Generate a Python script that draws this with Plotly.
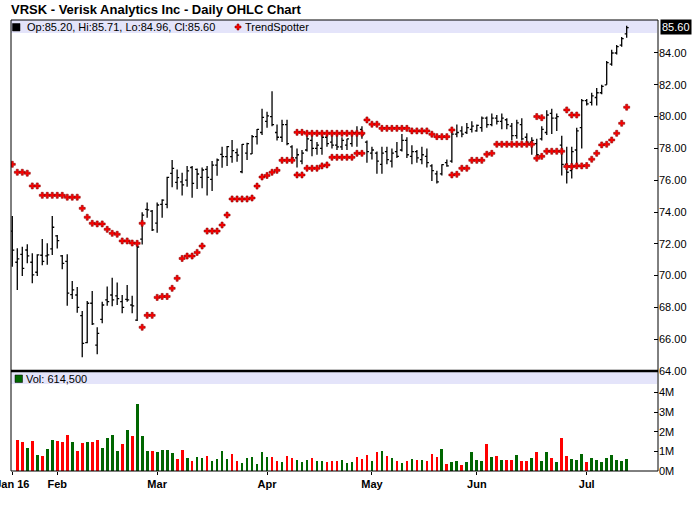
import plotly.graph_objects as go

title = "VRSK - Verisk Analytics Inc - Daily OHLC Chart"

# trading days counted from Jan 19 2016; first day of each month
tick_days = [0, 9, 29, 51, 72, 93, 115]
tick_labels = ["Jan 16", "Feb", "Mar", "Apr", "May", "Jun", "Jul"]
price_ticks = [64, 66, 68, 70, 72, 74, 76, 78, 80, 82, 84]
vol_ticks = [0, 1, 2, 3, 4]
vol_tick_labels = ["0M", "1M", "2M", "3M", "4M"]

opens = [72.80, 70.84, 71.34, 71.61, 70.84, 70.21, 71.28, 71.24, 71.68, 72.50,
         71.24, 70.90, 68.80, 68.78, 67.48, 65.78, 68.26, 65.63, 67.25, 68.47,
         68.78, 68.72, 68.36, 68.51, 68.15, 67.20, 72.30, 74.17, 74.06, 73.30,
         74.48, 74.48, 76.43, 75.86, 75.90, 76.01, 76.80, 76.68, 76.18, 76.68,
         76.05, 76.95, 77.62, 77.48, 77.48, 77.73, 76.53, 77.70, 77.65, 78.74,
         79.00, 79.70, 80.00, 79.00, 78.70, 79.50, 78.10, 77.40, 77.20, 77.90,
         78.50, 78.00, 78.00, 78.70, 78.40, 78.20, 78.10, 78.20, 78.30, 79.00,
         79.20, 78.40, 77.70, 77.70, 77.00, 77.80, 77.20, 77.80, 77.90, 78.50,
         77.50, 77.80, 77.30, 77.50, 76.90, 76.40, 76.40, 77.10, 77.20, 78.90,
         79.10, 79.00, 79.20, 79.10, 79.30, 79.90, 79.50, 79.90, 79.70, 79.80,
         79.40, 78.80, 79.50, 78.70, 78.40, 78.30, 78.60, 79.00, 80.20, 79.90,
         78.20, 77.00, 76.60, 77.90, 79.30, 81.00, 80.90, 81.20, 81.50, 82.00,
         83.30, 84.00, 84.50, 85.20]
highs = [73.75, 71.72, 71.82, 71.97, 71.40, 71.34, 72.30, 72.03, 73.75, 72.56,
         71.30, 71.34, 69.66, 69.29, 67.78, 68.40, 69.03, 66.75, 68.36, 69.31,
         69.87, 69.56, 68.78, 69.41, 68.74, 72.10, 73.98, 74.60, 74.12, 74.60,
         74.80, 76.22, 77.27, 76.68, 76.47, 76.89, 76.89, 76.74, 76.80, 76.89,
         77.20, 77.37, 78.11, 78.15, 78.53, 78.00, 78.28, 78.36, 78.84, 79.22,
         80.50, 80.30, 81.60, 79.50, 79.80, 79.80, 78.20, 78.00, 77.90, 79.00,
         78.90, 78.40, 78.90, 79.00, 78.90, 78.90, 78.70, 78.60, 79.10, 79.40,
         79.40, 78.50, 78.10, 77.80, 78.10, 78.10, 78.00, 78.40, 78.90, 78.70,
         78.20, 77.90, 78.10, 78.00, 77.00, 76.60, 77.00, 77.30, 79.20, 79.50,
         79.40, 79.60, 79.70, 79.50, 80.00, 80.00, 80.20, 80.10, 80.20, 79.90,
         79.60, 79.80, 79.90, 78.95, 78.70, 78.60, 79.40, 80.40, 80.50, 80.20,
         78.80, 78.10, 78.10, 79.30, 81.10, 81.10, 81.50, 81.80, 82.00, 83.50,
         84.20, 84.50, 85.00, 85.71]
lows = [70.56, 69.10, 69.98, 70.77, 69.52, 69.98, 70.65, 70.69, 71.30, 71.70,
        70.40, 68.10, 68.53, 67.67, 64.86, 65.74, 66.90, 65.05, 67.00, 68.10,
        68.07, 68.15, 67.63, 68.36, 67.63, 67.15, 71.95, 73.64, 72.80, 72.70,
        73.64, 74.23, 75.55, 75.42, 75.03, 75.59, 74.90, 75.44, 75.49, 75.03,
        75.32, 76.28, 76.79, 76.89, 77.10, 77.16, 76.43, 77.27, 77.65, 78.25,
        78.85, 79.30, 79.40, 78.50, 78.40, 78.20, 77.30, 76.80, 77.00, 77.80,
        77.50, 77.60, 77.60, 78.10, 78.00, 77.90, 77.90, 77.90, 78.10, 78.10,
        78.60, 77.10, 77.30, 76.40, 76.40, 77.00, 76.80, 77.40, 77.80, 77.40,
        77.00, 77.10, 77.00, 76.80, 75.95, 75.80, 76.30, 76.85, 77.10, 78.70,
        78.70, 78.90, 79.00, 79.05, 79.05, 79.30, 79.40, 79.50, 79.20, 79.20,
        78.50, 78.60, 78.50, 78.20, 77.60, 77.40, 78.50, 78.85, 78.90, 79.10,
        76.30, 75.80, 76.10, 76.90, 78.00, 80.70, 80.70, 80.70, 81.40, 82.00,
        83.20, 83.90, 84.40, 84.96]
closes = [71.60, 71.05, 70.46, 71.24, 70.04, 71.30, 70.90, 71.30, 73.04, 72.20,
          70.77, 68.90, 69.10, 68.00, 65.74, 68.26, 66.96, 66.37, 68.15, 68.36,
          68.47, 68.55, 68.00, 68.47, 68.10, 71.80, 73.80, 74.13, 72.87, 74.44,
          74.75, 76.18, 76.74, 76.16, 75.70, 76.58, 75.80, 76.39, 76.64, 76.18,
          76.95, 77.27, 77.48, 78.11, 77.86, 77.58, 78.25, 78.30, 78.74, 79.20,
          79.95, 80.05, 79.50, 78.70, 79.50, 78.30, 77.40, 77.60, 77.70, 78.60,
          78.00, 78.20, 78.70, 78.30, 78.20, 78.10, 78.50, 78.60, 79.00, 78.95,
          78.85, 77.80, 77.90, 77.20, 77.70, 77.30, 77.70, 77.50, 78.50, 77.60,
          77.80, 77.40, 77.60, 77.10, 76.60, 75.90, 76.98, 76.90, 78.90, 79.00,
          78.90, 79.30, 79.40, 79.45, 79.90, 79.50, 79.90, 79.70, 79.90, 79.50,
          78.80, 79.60, 78.60, 78.40, 78.50, 77.60, 79.20, 80.10, 79.90, 80.00,
          77.00, 76.50, 77.80, 79.10, 81.00, 80.80, 81.30, 81.50, 81.90, 83.40,
          84.00, 84.40, 84.90, 85.60]

# TrendSpotter dots, upper and lower runs (None = no dot that day)
ts_upper = [77.00, 76.50, 76.50, 76.44, 75.64, 75.64, 75.05, 75.05, 75.05, 75.05,
            75.05, 74.93, 74.93, 74.93, 74.23, 73.67, 73.29, 73.25, 73.25, 72.91,
            72.66, 72.60, 72.18, 72.18, 72.05, 72.03, 73.29, None, None, None,
            None, None, None, None, None, None, None, None, None, None,
            None, None, None, None, None, None, None, None, None, None,
            None, None, None, None, None, None, None, 79.01, 79.01, 78.95,
            78.95, 78.95, 78.95, 78.95, 78.95, 78.95, 78.95, 78.95, 78.95, 78.95,
            78.95, 79.79, 79.52, 79.52, 79.26, 79.26, 79.26, 79.26, 79.26, 79.26,
            79.10, 79.10, 79.10, 79.10, 78.89, 78.74, 78.74, 78.74, 79.16, None,
            None, None, None, None, None, None, None, None, None, None,
            None, None, None, None, None, 80.00, 79.93, None, None, None,
            None, 80.42, 80.10, 80.10, None, None, None, None, None, None,
            None, None, None, None]
ts_lower = [None, None, None, None, None, None, None, None, None, None,
            None, None, None, None, None, None, None, None, None, None,
            None, None, None, None, None, None, 66.75, 67.50, 67.50, 68.63,
            68.69, 68.69, 69.20, 69.83, 71.08, 71.23, 71.23, 71.46, 71.86, 72.80,
            72.80, 72.80, 73.18, 73.81, 74.82, 74.82, 74.82, 74.82, 74.88, 75.63,
            76.20, 76.30, 76.50, 76.62, 77.25, 77.25, 77.25, 76.33, 76.33, 76.75,
            76.75, 76.75, 76.90, 76.96, 77.44, 77.44, 77.44, 77.44, 77.44, 77.69,
            77.69, None, None, None, None, None, None, None, None, None,
            None, None, None, None, None, None, None, None, 76.33, 76.37,
            76.75, 76.75, 77.25, 77.25, 77.25, 77.63, 77.69, 78.26, 78.26, 78.26,
            78.26, 78.26, 78.26, 78.26, 78.26, 77.38, 77.50, 77.82, 77.82, 77.82,
            77.82, 76.86, 76.86, 76.90, 76.90, 76.92, 77.32, 77.69, 78.22, 78.26,
            78.53, 78.95, 79.58, 80.59]

# volume in millions of shares
volume = [None, 1.60, 1.50, 1.19, 1.55, 0.83, 0.76, 1.14, 1.60, 1.55,
          1.50, 1.86, 1.50, 1.03, 1.45, 1.50, 1.50, 1.60, 1.19, 1.66,
          1.86, 1.03, 1.40, 2.07, 1.81, 3.41, 1.81, 1.03, 1.03, 0.98,
          1.09, 1.09, 0.93, 0.62, 1.09, 0.67, 0.52, 0.72, 0.67, 0.78,
          0.52, 0.62, 1.03, 0.62, 0.88, 0.52, 0.41, 0.67, 0.72, 0.36,
          0.98, 0.72, 0.72, 0.52, 0.47, 0.78, 0.67, 0.57, 0.47, 0.57,
          0.67, 0.52, 0.52, 0.47, 0.52, 0.52, 0.57, 0.41, 0.48, 0.69,
          0.62, 0.83, 0.52, 0.98, 1.03, 0.78, 0.67, 0.52, 0.41, 0.52,
          0.62, 0.57, 0.57, 0.52, 0.88, 0.69, 1.14, 0.36, 0.47, 0.52,
          0.31, 0.47, 0.98, 0.57, 0.52, 1.40, 0.72, 0.78, 0.57, 0.57,
          0.57, 0.83, 0.52, 0.52, 0.67, 0.98, 0.52, 0.98, 0.67, 0.47,
          1.66, 0.78, 0.62, 0.57, 0.88, 0.47, 0.67, 0.57, 0.47, 0.67,
          0.83, 0.57, 0.52, 0.6145]

days = list(range(len(closes)))
up, down = "#006600", "#FF0000"
vol_colors = [up if i == 0 or closes[i] >= closes[i - 1] else down for i in days]

# plot box in page pixels
L, R, T, B = 11, 658, 20, 471
SPLIT = 371
x_range = [-0.26, 129.27]
price_range = [64.0, 86.075]
vol_range = [0, 5.1]


def px_x(p):
    return (p - L) / (R - L)


def px_y(p):
    return (B - p) / (B - T)


def data_x(p):
    return x_range[0] + px_x(p) * (x_range[1] - x_range[0])


def price_y(p):
    return price_range[0] + (SPLIT - p) / (SPLIT - T) * (price_range[1] - price_range[0])


font = "Liberation Sans, Arial, sans-serif"
dot = dict(symbol="cross", size=5, color="#FF0000", line=dict(color="#8A0000", width=0.6))

fig = go.Figure()
fig.add_trace(go.Ohlc(x=days, open=opens, high=highs, low=lows, close=closes,
                      increasing_line_color="black", decreasing_line_color="black",
                      line_width=1.3, tickwidth=0.4, xaxis="x", yaxis="y",
                      showlegend=False, hoverinfo="skip"))
fig.add_trace(go.Scatter(x=days, y=ts_upper, mode="markers", marker=dot,
                         xaxis="x", yaxis="y", showlegend=False, hoverinfo="skip"))
fig.add_trace(go.Scatter(x=days, y=ts_lower, mode="markers", marker=dot,
                         xaxis="x", yaxis="y", showlegend=False, hoverinfo="skip"))
# legend marker for TrendSpotter
fig.add_trace(go.Scatter(x=[data_x(238)], y=[price_y(27)], mode="markers", marker=dot,
                         xaxis="x", yaxis="y", showlegend=False, hoverinfo="skip",
                         cliponaxis=False))
fig.add_trace(go.Bar(x=days, y=volume, marker_color=vol_colors, width=0.55,
                     marker_line_width=0, xaxis="x2", yaxis="y2",
                     showlegend=False, hoverinfo="skip"))

split = px_y(SPLIT)
shapes = [
    # legend bands
    dict(type="rect", xref="paper", yref="paper", x0=0, x1=px_x(657), y0=px_y(33), y1=1,
         fillcolor="#E4E4FA", line_width=0, layer="below"),
    dict(type="rect", xref="paper", yref="paper", x0=0, x1=px_x(657), y0=px_y(384), y1=split,
         fillcolor="#E4E4FA", line_width=0, layer="below"),
    # frame and panel separator
    dict(type="rect", xref="paper", yref="paper", x0=0, x1=1, y0=0, y1=1,
         line=dict(color="black", width=1)),
    dict(type="line", xref="paper", yref="paper", x0=0, x1=1, y0=split, y1=split,
         line=dict(color="black", width=2.5)),
    # legend squares
    dict(type="rect", xref="paper", yref="paper", x0=px_x(12.5), x1=px_x(20), y0=px_y(31),
         y1=px_y(23.5), fillcolor="black", line=dict(color="black", width=0.5)),
    dict(type="rect", xref="paper", yref="paper", x0=px_x(15), x1=px_x(22.5), y0=px_y(382.5),
         y1=px_y(375), fillcolor="#006600", line=dict(color="black", width=0.5)),
]

ohlc_text = "Op:%.2f, Hi:%.2f, Lo:%.2f, Cl:%.2f" % (opens[-1], highs[-1], lows[-1], closes[-1])
vol_text = "Vol: {:,.0f}".format(volume[-1] * 1e6)

annotations = [
    dict(text="<b>" + title + "</b>", xref="paper", yref="paper", x=px_x(9), y=px_y(10),
         xanchor="left", yanchor="middle", showarrow=False,
         font=dict(family=font, size=13, color="black")),
    dict(text=ohlc_text, xref="paper", yref="paper", x=px_x(25), y=px_y(27),
         xanchor="left", yanchor="middle", showarrow=False,
         font=dict(family=font, size=11, color="black")),
    dict(text="TrendSpotter", xref="paper", yref="paper", x=px_x(243), y=px_y(27),
         xanchor="left", yanchor="middle", showarrow=False,
         font=dict(family=font, size=11, color="black")),
    dict(text=vol_text, xref="paper", yref="paper", x=px_x(24), y=px_y(378.5),
         xanchor="left", yanchor="middle", showarrow=False,
         font=dict(family=font, size=11, color="black")),
    dict(text="%.2f" % closes[-1], xref="paper", yref="y", x=1, y=closes[-1],
         xanchor="left", yanchor="middle", xshift=2, yshift=1, showarrow=False,
         bgcolor="black", borderpad=1,
         font=dict(family=font, size=11, color="white")),
]

axis_common = dict(showgrid=False, zeroline=False, color="black")
fig.update_layout(
    width=700, height=512,
    margin=dict(l=L, r=700 - R, t=T, b=512 - B, autoexpand=False),
    paper_bgcolor="white", plot_bgcolor="white",
    font=dict(family=font, size=11, color="black"),
    showlegend=False,
    bargap=0,
    xaxis=dict(domain=[0, 1], anchor="y", range=x_range, showticklabels=False,
               ticks="", rangeslider=dict(visible=False), **axis_common),
    yaxis=dict(domain=[split, 1], anchor="x", range=price_range, side="right",
               tickvals=price_ticks, tickformat=".2f", ticks="inside", ticklen=4,
               tickcolor="black", tickfont=dict(family=font, size=11), **axis_common),
    xaxis2=dict(domain=[0, 1], anchor="y2", range=x_range, tickvals=tick_days,
                ticktext=tick_labels, ticks="outside", ticklen=3, tickcolor="black",
                ticklabeloverflow="allow",
                tickfont=dict(family=font, size=11, weight="bold"), **axis_common),
    yaxis2=dict(domain=[0, split], anchor="x2", range=vol_range, side="right",
                tickvals=vol_ticks, ticktext=vol_tick_labels, ticks="inside", ticklen=4,
                tickcolor="black", tickfont=dict(family=font, size=11), **axis_common),
    shapes=shapes,
    annotations=annotations,
)

# the page must start at the top-left corner, like the reference picture
fig.write_html("out.html", config={"displayModeBar": False},
               post_script="document.body.style.margin='0';")
